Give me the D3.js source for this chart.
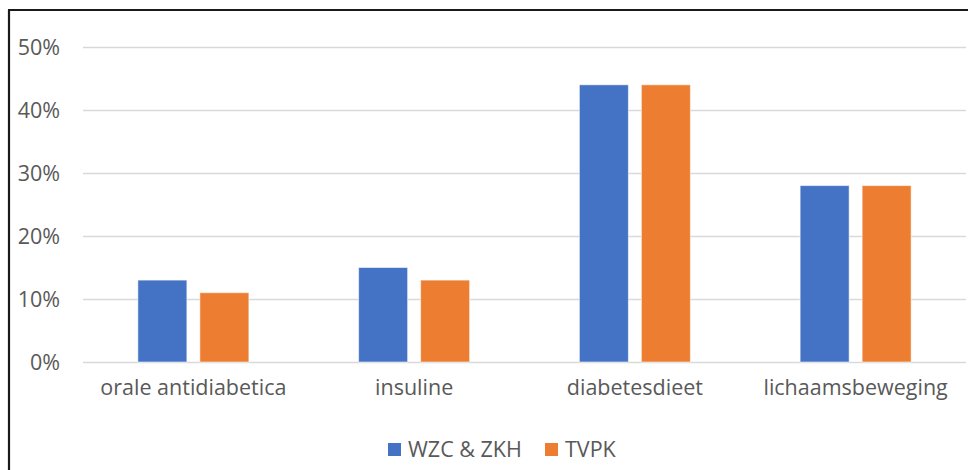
<!DOCTYPE html>
<html>
<head>
<meta charset="utf-8">
<script src="https://cdn.jsdelivr.net/npm/d3@7"></script>
<style>
  html, body { margin: 0; padding: 0; background: #fff; }
  svg { display: block; }
  text { font-family: "Open Sans", "Noto Sans", sans-serif; fill: #595959; }
</style>
</head>
<body>
<svg id="chart" width="968" height="470"></svg>
<script>
// Aandeel per behandeling, per bron
const categories = ["orale antidiabetica", "insuline", "diabetesdieet", "lichaamsbeweging"];
const seriesNames = ["WZC & ZKH", "TVPK"];
const wzcZkh = [0.13, 0.15, 0.44, 0.28];
const tvpk = [0.11, 0.13, 0.44, 0.28];
const yTicks = [0, 0.1, 0.2, 0.3, 0.4, 0.5];
const colors = ["#4472C4", "#ED7D31"];

const svg = d3.select("#chart");
const W = 968, H = 470;
const plot = { left: 83, right: 966, top: 47, bottom: 362 };
const fontSize = 21.5;

// frame lines (left and top edges)
svg.append("line").attr("x1", 9).attr("x2", 9).attr("y1", 10).attr("y2", H)
  .attr("stroke", "#1a1a1a").attr("stroke-width", 2.2);
svg.append("line").attr("x1", 8).attr("x2", W).attr("y1", 10).attr("y2", 10)
  .attr("stroke", "#1a1a1a").attr("stroke-width", 2.2);

const x0 = d3.scaleBand().domain(categories).range([plot.left, plot.right]).paddingInner(0).paddingOuter(0);
const y = d3.scaleLinear().domain([0, 0.5]).range([plot.bottom, plot.top]);

// gridlines and percentage labels
const yAxis = d3.axisLeft(y).tickValues(yTicks).tickFormat(d3.format(".0%"))
  .tickSize(-(plot.right - plot.left)).tickPadding(23);
const gy = svg.append("g").attr("transform", `translate(${plot.left},0)`).call(yAxis);
gy.select(".domain").remove();
gy.selectAll(".tick line").attr("stroke", "#d9d9d9").attr("stroke-width", 1.6);
gy.selectAll(".tick text").attr("font-size", fontSize).attr("fill", "#595959")
  .attr("dy", "0.35em");

// bars
const data = categories.map((c, i) => ({ cat: c, vals: [wzcZkh[i], tvpk[i]] }));
const barW = 49, gap = 13;
const x1 = d3.scaleOrdinal().domain(seriesNames).range([-(gap / 2 + barW), gap / 2]);

const groups = svg.append("g").selectAll("g").data(data).join("g")
  .attr("transform", d => `translate(${x0(d.cat) + x0.bandwidth() / 2},0)`);
groups.selectAll("rect").data(d => d.vals.map((v, j) => ({ v, s: seriesNames[j], j })))
  .join("rect")
  .attr("x", d => x1(d.s))
  .attr("width", barW)
  .attr("y", d => y(d.v))
  .attr("height", d => y(0) - y(d.v))
  .attr("fill", d => colors[d.j])
  .attr("stroke", "rgba(255,255,255,0.55)")
  .attr("stroke-width", 1);

// category labels
const xAxis = d3.axisBottom(x0).tickSize(0).tickPadding(18);
const gx = svg.append("g").attr("transform", `translate(0,${plot.bottom})`).call(xAxis);
gx.select(".domain").remove();
gx.selectAll(".tick text").attr("font-size", fontSize).attr("fill", "#595959");

// legend
const legend = svg.append("g");
const legendItems = [
  { name: seriesNames[0], color: colors[0], x: 388 },
  { name: seriesNames[1], color: colors[1], x: 545 }
];
legendItems.forEach(it => {
  legend.append("rect").attr("x", it.x).attr("y", 443).attr("width", 13).attr("height", 13)
    .attr("fill", it.color);
  legend.append("text").attr("x", it.x + 20).attr("y", 457)
    .attr("font-size", fontSize).text(it.name);
});
</script>
</body>
</html>
